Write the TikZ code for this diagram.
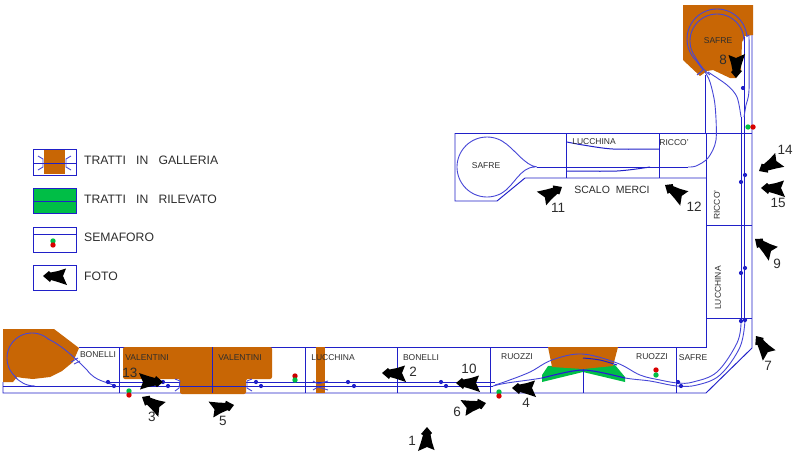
\documentclass[tikz,border=0pt]{standalone}
\usepackage{fontspec}
\setmainfont{Liberation Sans}
\definecolor{lineblue}{RGB}{32,32,200}
\definecolor{trackblue}{RGB}{70,70,215}
\definecolor{tunnel}{RGB}{200,102,5}
\definecolor{bank}{RGB}{0,190,70}
\definecolor{inktext}{RGB}{45,45,45}
\tikzset{
  frame/.style={draw=lineblue,line width=0.95pt},
  track/.style={draw=trackblue,line width=0.9pt},
  lay/.style={draw=lineblue,line width=1pt},
  tunnelfill/.style={fill=tunnel,draw=none},
  bankfill/.style={fill=bank,draw=none},
  lbl/.style={text=inktext,font=\fontsize{8.5}{10}\selectfont,inner sep=0pt},
  num/.style={text=inktext,font=\fontsize{13.5}{15}\selectfont,inner sep=0pt},
  leg/.style={text=inktext,font=\fontsize{12.2}{14}\selectfont,inner sep=0pt,anchor=west},
  blip/.style={fill=lineblue,draw=none}
}
\newcommand{\fotoarrow}[3]{\fill[black,shift={(#1,#2)},rotate=#3]
  (0,0)--(6,-5)--(7.5,-3.5)--(15,-5)--(23,-7.5)--(20,0)--(24,9)--(15,6)--(8,4)--(7,6)--cycle;}
\newcommand{\semaforo}[5]{\fill[#4] (#1,#2) circle (2.7pt);\fill[#5] (#1,#3) circle (2.7pt);}
\newcommand{\semaforoh}[5]{\fill[#4] (#1,#3) circle (2.7pt);\fill[#5] (#2,#3) circle (2.7pt);}
\newcommand{\blips}[1]{\foreach \px/\py in {#1}{\fill[blip] (\px,\py) circle (2.1pt);}}
\begin{document}
\begin{tikzpicture}[x=1pt,y=-1pt]
\useasboundingbox (0,0) rectangle (800,453);
\fill[white] (0,0) rectangle (800,453);
% outer frame first (tunnels cover it)
\draw[frame] (79,347)--(706,347)--(706,133);
\draw[frame] (3,382)--(3,393)--(706,393)--(752,348)--(752,35);
\draw[frame] (455,133)--(752,133);
\draw[frame] (455,133)--(455,201)--(497,201)--(525,178)--(706,178);
% tunnels and embankment
\fill[tunnelfill] (3,329)--(54,329)--(79,348)--(73,362)--(62,371)--(50,377)--(33,379)--(23,378)--(17,377)--(13,382)--(3,382)--cycle;
\fill[tunnelfill,rounded corners=2pt] (123,347)--(272,347)--(272,379)--(246,379)--(246,394)--(180,394)--(180,379)--(123,379)--cycle;
\fill[tunnelfill] (316,347) rectangle (325,393);
\fill[bankfill] (542,375)--(548,366)--(615,365)--(625,377)--(625,382)--(583,372)--(542,382)--cycle;
\fill[tunnelfill] (548,347)--(618,347)--(613,366)--(583,369)--(552,367)--cycle;
\fill[tunnelfill] (683,5)--(753,5)--(753,35)--(745,36)--(742,42)--(741,70)--(736,78)--(730,78)--(713,70)--(707,71)--(700,76)--(683,60)--cycle;
% cross walls
\foreach \x/\ya/\yb in {119/347/393,212/347/393,305/347/393,397/347/393,490/347/393,583/369/393,676/347/393,566/133/178,659/133/178}
  {\draw[frame] (\x,\ya)--(\x,\yb);}
\draw[frame] (706,225)--(752,225);
\draw[frame] (706,318)--(752,318);
\draw[frame] (705,75)--(705,133);
% straight tracks
\draw[lay] (35,386)--(493,386);
\draw[lay] (246,382)--(495,382);
\draw[lay] (108,382)--(180,382);
\draw[frame] (3,386)--(35,386);
\draw[lay] (537,167)--(688,167);
\draw[lay] (741,117)--(741,323);
\draw[lay] (744,37)--(744,320);
% left loop
\draw[track] (115,386) .. controls (106,381) and (96,382) .. (87,370) .. controls (78,361) and (62,345) .. (48,339)
  -- plot[domain=50:225,samples=40] ({32+25*cos(\x)},{358-25*sin(\x)}) -- (17,379);
\draw[track] (15,377) .. controls (20,382) and (26,386) .. (35,386);
\draw[track] (71,362)--(78,358)(74,364)--(80,361);
% tunnel mouths
\draw[track] (175,379)--(180,381)--(179,388)--(175,391);
\draw[track] (252,379)--(247,381)--(247,388)--(252,391);
\draw[track] (313,381)--(318,384)--(328,381)(313,390)--(318,387)--(328,390);
% long curves bottom right
\draw[track] plot[smooth,tension=0.6] coordinates {(495,385)(507,381)(530,372)(552,360)(582,354)(617,363)(640,375)(660,380)(678,383)(693,382)(717,372)(737,343)(741,323)};
\draw[track] plot[smooth,tension=0.6] coordinates {(493,386)(507,383)(542,378)(583,370)(625,378)(650,381)(677,386)(697,385)(720,375)(740,347)(745,320)};
\draw[lay] plot[smooth] coordinates {(542,378)(583,370)(625,378)};
\draw[lay] plot[smooth] coordinates {(583,358)(600,360)(617,365)};
% top loop
\draw[track] (749,35) -- plot[domain=5:225,samples=50] ({717+30*cos(\x)},{39-30*sin(\x)}) -- (703,70);
\draw[track] (744,41) -- plot[domain=0:210,samples=50] ({717+27*cos(\x)},{41-27*sin(\x)}) .. controls (698,62) and (703,70) .. (710,75);
\draw[track] (703,70)--(697,75);
\draw[track] plot[smooth] coordinates {(705,72)(710,82)(715,105)(716,140)(708,158)(696,166)(688,167)};
\draw[track] plot[smooth] coordinates {(708,72)(727,85)(737,97)(741,117)};
\draw[track] plot[smooth] coordinates {(749,35)(749,90)(746,105)(744,117)};
% scalo loop
\draw[track] (537,167) .. controls (525,166) and (514,148) .. (502,141)
  -- plot[domain=60:300,samples=50] ({487+30*cos(\x)},{167-30*sin(\x)})
  .. controls (514,186) and (520,167) .. (535,167);
\draw[lay] plot[smooth] coordinates {(567,142)(583,145)(613,149)(659,149)};
\draw[lay] plot[smooth] coordinates {(567,171)(617,171)(650,167)};
% blips
\blips{108/382,114/386,163/382,168/386,256/382,261/386,348/382,354/386,441/382,446/386,678/382,681/386,741/321,745/320,741/273,745/268,741/182,745/175,743/88}
% signals
\semaforo{295}{376}{380}{red!80!black}{bank}
\semaforo{129}{391}{395}{bank}{red!85!black}
\semaforo{499}{392}{396}{bank}{red!85!black}
\semaforo{656}{370}{375}{red!85!black}{bank}
\semaforoh{748}{753}{127}{bank}{red!85!black}
% labels
\node[lbl] (l1) at (98,355) {BONELLI};
\node[lbl] (l2) at (147,358) {VALENTINI};
\node[lbl] (l3) at (240,358) {VALENTINI};
\node[lbl] (l4) at (333,358) {LUCCHINA};
\node[lbl] (l5) at (421,358) {BONELLI};
\node[lbl] (l6) at (517,357) {RUOZZI};
\node[lbl] (l7) at (652,357) {RUOZZI};
\node[lbl] (l8) at (693,358) {SAFRE};
\node[lbl] (l9) at (718,41) {SAFRE};
\node[lbl] (l10) at (594,142) {LUCCHINA};
\node[lbl] (l11) at (674,143) {RICCO'};
\node[lbl] (l12) at (486,166) {SAFRE};
\node[lbl,rotate=90] (l13) at (717,205) {RICCO'};
\node[lbl,rotate=90] (l14) at (718,288) {LUCCHINA};
\node[text=inktext,font=\fontsize{10.5}{12}\selectfont,inner sep=0pt] (l15) at (612,190) {SCALO\ \ MERCI};
% photo arrows
\fotoarrow{427}{427}{-90}
\fotoarrow{382}{373}{0}
\fotoarrow{456}{383}{0}
\fotoarrow{486}{403}{194}
\fotoarrow{512}{388}{0}
\fotoarrow{163}{382}{180}
\fotoarrow{142}{397}{-30}
\fotoarrow{234}{405}{193}
\fotoarrow{756}{336}{-54}
\fotoarrow{736}{78}{90}
\fotoarrow{759}{171}{30}
\fotoarrow{761}{188}{0}
\fotoarrow{755}{239}{-37}
\fotoarrow{562}{187}{211}
\fotoarrow{665}{185}{-33}
% numbers
\node[num] (n1) at (412,441) {1};
\node[num] (n2) at (413,372) {2};
\node[num] (n3) at (152,417) {3};
\node[num] (n4) at (526,403) {4};
\node[num] (n5) at (223,421) {5};
\node[num] (n6) at (457,412) {6};
\node[num] (n7) at (768,366) {7};
\node[num] (n8) at (723,60) {8};
\node[num] (n9) at (777,264) {9};
\node[num] (n10) at (469,369) {10};
\node[num] (n11) at (558,208) {11};
\node[num] (n12) at (694,207) {12};
\node[num] (n13) at (130,373) {13};
\node[num] (n14) at (785,150) {14};
\node[num] (n15) at (778,203) {15};
% legend
\fill[tunnelfill] (44,150) rectangle (65,174);
\fill[bankfill] (33,188) rectangle (76,213);
\draw[frame] (33,149) rectangle (76,175);
\draw[frame] (33,163)--(76,163);
\draw[track] (38,156)--(43,159)--(43,167)--(38,170);
\draw[track] (71,156)--(66,159)--(66,167)--(71,170);
\draw[frame] (33,188) rectangle (76,213);
\draw[frame] (33,201)--(76,201);
\draw[frame] (33,227) rectangle (76,252);
\draw[frame] (33,234)--(76,234);
\semaforo{53}{241}{245}{bank}{red!85!black}
\draw[frame] (33,265) rectangle (76,290);
\fotoarrow{43}{276}{0}
\node[leg] (g1) at (84,160) {TRATTI\ \ \ IN\ \ \ GALLERIA};
\node[leg] (g2) at (84,199) {TRATTI\ \ \ IN\ \ \ RILEVATO};
\node[leg] (g3) at (84,237) {SEMAFORO};
\node[leg] (g4) at (84,276) {FOTO};
\end{tikzpicture}
\end{document}
